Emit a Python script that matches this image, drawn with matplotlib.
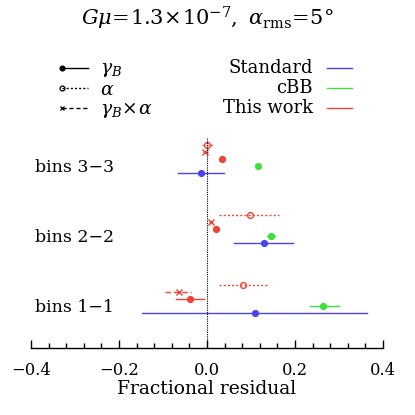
import matplotlib
matplotlib.use("Agg")
import matplotlib.pyplot as plt
from matplotlib.ticker import MultipleLocator

plt.rcParams['font.family'] = ['DejaVu Serif']
plt.rcParams['mathtext.fontset'] = 'dejavuserif'

bins = ["bins 1\u22121", "bins 2\u22122", "bins 3\u22123"]

# Standard (gamma_B): value, low, high
std_val = [0.108, 0.130, -0.014]
std_lo = [-0.148, 0.062, -0.065]
std_hi = [0.363, 0.196, 0.039]
# cBB (gamma_B)
cbb_val = [0.264, 0.146, 0.115]
cbb_lo = [0.233, 0.137, 0.111]
cbb_hi = [0.299, 0.155, 0.118]
# This work gamma_B
tw_g_val = [-0.039, 0.020, 0.033]
tw_g_lo = [-0.070, 0.013, 0.031]
tw_g_hi = [-0.006, 0.026, 0.035]
# This work gamma_B x alpha
tw_x_val = [-0.064, 0.009, -0.005]
tw_x_lo = [-0.095, 0.004, -0.008]
tw_x_hi = [-0.037, 0.014, 0.002]
# This work alpha
tw_a_val = [0.081, 0.098, 0.001]
tw_a_lo = [0.027, 0.028, -0.011]
tw_a_hi = [0.136, 0.163, 0.014]

BLUE = '#4a44f0'
GREEN = '#3ee03e'
RED = '#ee4433'

fig = plt.figure(figsize=(4.15, 4.15), dpi=100)
W = H = 415.0
ax = fig.add_axes([31 / W, 1 - 348 / H, (383 - 31) / W, (348 - 138) / H])
ax.set_xlim(-0.4, 0.4)
ax.set_ylim(-5.0, 25.0)

def draw(vals, los, his, row, color, marker, ls, mfc):
    for g in range(3):
        y = g * 10 + row
        ax.plot([los[g], his[g]], [y, y], color=color, lw=1.0, ls=ls)
        ax.plot([vals[g]], [y], marker=marker, color=color, mfc=mfc,
                ms=4.2 if marker == 'o' else 4, mew=1.0, ls='none')

draw(std_val, std_lo, std_hi, 0, BLUE, 'o', '-', BLUE)
draw(cbb_val, cbb_lo, cbb_hi, 1, GREEN, 'o', '-', GREEN)
draw(tw_g_val, tw_g_lo, tw_g_hi, 2, RED, 'o', '-', RED)
draw(tw_x_val, tw_x_lo, tw_x_hi, 3, RED, 'x', (0, (4, 2)), RED)
draw(tw_a_val, tw_a_lo, tw_a_hi, 4, RED, 'o', (0, (1.5, 1.5)), 'none')

ax.axvline(0.0, color='k', lw=0.8, ls=(0, (1, 1)))

for g, lab in enumerate(bins):
    ax.text(-0.39, g * 10 + 0.75, lab, fontsize=12.5, va='center', ha='left')

for s in ['top', 'left', 'right']:
    ax.spines[s].set_visible(False)
ax.spines['bottom'].set_linewidth(1.0)
ax.set_yticks([])
ax.xaxis.set_major_locator(MultipleLocator(0.2))
ax.xaxis.set_minor_locator(MultipleLocator(0.04))
ax.tick_params(axis='x', which='major', direction='in', length=6, width=1.0,
               labelsize=11.8, pad=10)
ax.tick_params(axis='x', which='minor', direction='in', length=3.5, width=1.0)
ax.set_xticks([-0.4, -0.2, 0.0, 0.2, 0.4])
ax.set_xticklabels(['\u22120.4', '\u22120.2', '0.0', '0.2', '0.4'])
ax.set_xlabel('Fractional residual', fontsize=13.5, labelpad=1)

# title
fig.text(207 / W, 1 - 18 / H,
         r'$G\mu\!=\!1.3\!\times\!10^{-7},\ \alpha_{\rm rms}\!=\!5\degree$',
         fontsize=15, ha='center', va='center')

# legend (drawn as figure lines/text)
def fx(px):
    return px / W

def fy(py):
    return 1 - py / H

leg_sym = [(r'$\gamma_B$', 'o', '-', 'k'),
           (r'$\alpha$', 'o', (0, (1.5, 1.5)), 'none'),
           (r'$\gamma_B\!\times\!\alpha$', 'x', (0, (3, 2)), 'k')]
for i, (lab, mk, ls, mfc) in enumerate(leg_sym):
    y = 68 + 20 * i
    fig.add_artist(plt.Line2D([fx(62), fx(88)], [fy(y), fy(y)], color='k',
                              lw=1.0, ls=ls))
    fig.add_artist(plt.Line2D([fx(62)], [fy(y)], color='k', marker=mk,
                              mfc=mfc, ms=3.5 if mk == 'o' else 3, mew=0.9))
    fig.text(fx(100), fy(y + 2), lab, fontsize=13.5, ha='left', va='center')

leg_col = [('Standard', BLUE), ('cBB', GREEN), ('This work', RED)]
for i, (lab, c) in enumerate(leg_col):
    y = 68 + 20 * i
    fig.text(fx(313), fy(y), lab, fontsize=13, ha='right', va='center')
    fig.add_artist(plt.Line2D([fx(327), fx(352)], [fy(y), fy(y)], color=c,
                              lw=1.0))

fig.savefig('out.png', dpi=100)
